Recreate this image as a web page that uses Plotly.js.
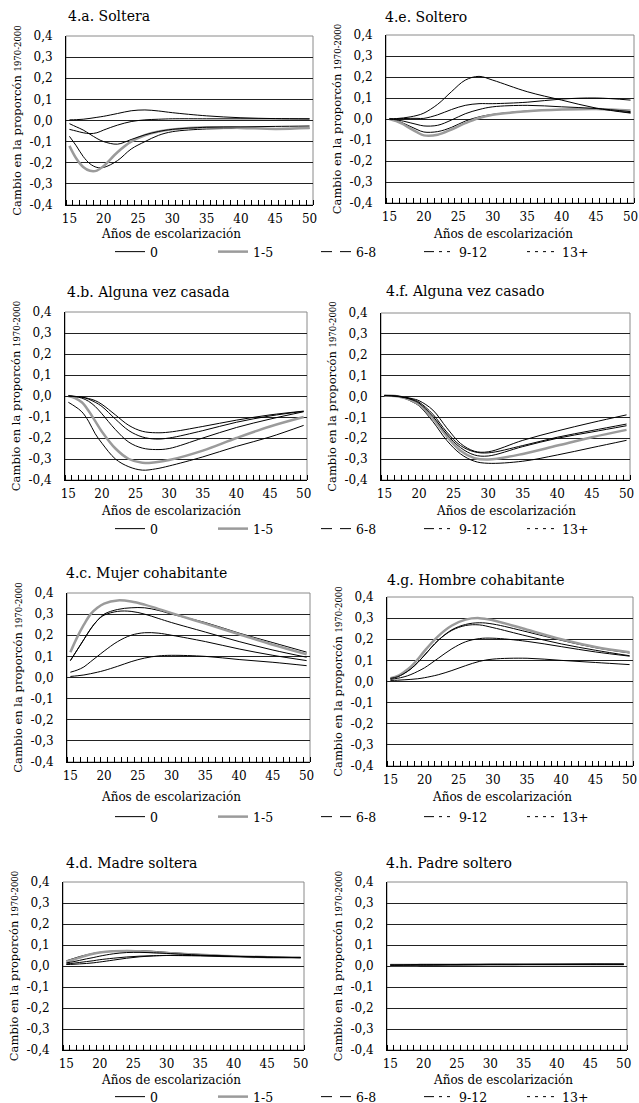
<!DOCTYPE html>
<html>
<head>
<meta charset="utf-8">
<script src="https://cdn.plot.ly/plotly-3.0.1.min.js"></script>
<style>html,body{margin:0;padding:0;background:#fff;}#chart{width:639px;height:1103px;}</style>
</head>
<body>
<div id="chart"></div>
<script>
// ---------- DATA ----------
const AGES = [15,16,17,18,19,20,22,24,26,28,30,35,40,45,50];
const GROUPS = ['0','1-5','6-8','9-12','13+'];
const X_TICK_VALS = [15,20,25,30,35,40,45,50];
const Y_TICK_VALS = [-0.4,-0.3,-0.2,-0.1,0,0.1,0.2,0.3,0.4];
const Y_TICK_TEXT = ['-0,4','-0,3','-0,2','-0,1','0,0','0,1','0,2','0,3','0,4'];
const PANEL_TITLES = ['4.a. Soltera','4.e. Soltero','4.b. Alguna vez casada','4.f. Alguna vez casado',
                      '4.c. Mujer cohabitante','4.g. Hombre cohabitante','4.d. Madre soltera','4.h. Padre soltero'];
const X_TITLE = 'Años de escolarización';
const Y_TITLE_MAIN = 'Cambio en la proporcón';
const Y_TITLE_SUB = '1970-2000';

// each panel: values for groups 0, 1-5, 6-8, 9-12, 13+
const solteraVals = [
  [-0.075,-0.12,-0.17,-0.205,-0.222,-0.222,-0.19,-0.135,-0.1,-0.07,-0.053,-0.04,-0.038,-0.038,-0.036],
  [-0.12,-0.18,-0.22,-0.238,-0.237,-0.215,-0.15,-0.1,-0.07,-0.052,-0.042,-0.032,-0.035,-0.04,-0.036],
  [-0.015,-0.03,-0.045,-0.065,-0.085,-0.1,-0.112,-0.09,-0.068,-0.052,-0.042,-0.032,-0.03,-0.028,-0.026],
  [-0.042,-0.05,-0.058,-0.062,-0.058,-0.045,-0.022,-0.005,0.003,0.006,0.008,0.008,0.008,0.008,0.007],
  [0.003,0.004,0.006,0.01,0.015,0.02,0.033,0.046,0.05,0.045,0.037,0.022,0.013,0.009,0.008]
];
const solteroVals = [
  [0,-0.008,-0.02,-0.035,-0.05,-0.062,-0.06,-0.04,-0.01,0.01,0.022,0.038,0.045,0.048,0.03],
  [0,-0.01,-0.025,-0.045,-0.063,-0.078,-0.075,-0.05,-0.02,0.005,0.02,0.037,0.045,0.048,0.04],
  [0,-0.004,-0.01,-0.018,-0.026,-0.033,-0.03,-0.005,0.025,0.045,0.058,0.065,0.058,0.05,0.035],
  [0,0.001,0.002,0.003,0.003,0.003,0.02,0.045,0.065,0.073,0.073,0.08,0.095,0.1,0.09],
  [0,0.002,0.005,0.01,0.017,0.028,0.07,0.13,0.185,0.203,0.185,0.13,0.09,0.052,0.028]
];
const casadaVals = [
  [-0.03,-0.05,-0.075,-0.12,-0.18,-0.225,-0.3,-0.337,-0.353,-0.347,-0.333,-0.29,-0.24,-0.195,-0.14],
  [0,-0.01,-0.03,-0.07,-0.12,-0.17,-0.25,-0.3,-0.318,-0.315,-0.305,-0.26,-0.2,-0.145,-0.1],
  [0,-0.003,-0.01,-0.025,-0.05,-0.085,-0.16,-0.22,-0.248,-0.255,-0.25,-0.2,-0.15,-0.11,-0.075],
  [0,-0.002,-0.006,-0.015,-0.03,-0.05,-0.11,-0.165,-0.195,-0.205,-0.2,-0.165,-0.125,-0.095,-0.073],
  [0,-0.002,-0.005,-0.012,-0.022,-0.04,-0.09,-0.14,-0.168,-0.175,-0.172,-0.145,-0.115,-0.09,-0.072]
];
const casadoVals = [
  [0.005,0.004,0,-0.01,-0.025,-0.045,-0.12,-0.21,-0.275,-0.31,-0.32,-0.31,-0.28,-0.245,-0.21],
  [0.005,0.004,0,-0.008,-0.02,-0.038,-0.105,-0.19,-0.26,-0.295,-0.302,-0.275,-0.235,-0.195,-0.16],
  [0.005,0.003,0,-0.006,-0.016,-0.032,-0.095,-0.18,-0.245,-0.28,-0.285,-0.24,-0.2,-0.17,-0.14],
  [0.005,0.004,0.001,-0.005,-0.013,-0.027,-0.085,-0.17,-0.235,-0.265,-0.27,-0.235,-0.195,-0.163,-0.132],
  [0.005,0.004,0.002,-0.003,-0.01,-0.02,-0.065,-0.15,-0.225,-0.262,-0.265,-0.21,-0.165,-0.125,-0.088]
];
const mujerCohVals = [
  [0.08,0.13,0.18,0.23,0.27,0.3,0.322,0.33,0.33,0.318,0.3,0.26,0.21,0.165,0.12],
  [0.12,0.19,0.25,0.3,0.33,0.35,0.365,0.36,0.345,0.325,0.305,0.255,0.205,0.155,0.11],
  [0.08,0.13,0.18,0.23,0.27,0.295,0.313,0.313,0.3,0.28,0.26,0.215,0.17,0.13,0.096],
  [0.025,0.035,0.05,0.075,0.1,0.125,0.17,0.2,0.212,0.21,0.2,0.17,0.135,0.105,0.08],
  [0.005,0.008,0.012,0.018,0.025,0.033,0.053,0.075,0.092,0.102,0.105,0.1,0.085,0.072,0.056]
];
const hombreCohVals = [
  [0.015,0.022,0.038,0.06,0.09,0.125,0.195,0.245,0.27,0.278,0.272,0.235,0.195,0.16,0.135],
  [0.015,0.025,0.045,0.07,0.105,0.145,0.215,0.265,0.293,0.3,0.29,0.245,0.2,0.163,0.138],
  [0.015,0.022,0.038,0.06,0.09,0.125,0.195,0.242,0.265,0.268,0.255,0.215,0.178,0.148,0.122],
  [0.01,0.015,0.022,0.033,0.048,0.065,0.11,0.155,0.188,0.203,0.205,0.19,0.165,0.14,0.12],
  [0.005,0.006,0.008,0.01,0.013,0.018,0.032,0.052,0.075,0.095,0.106,0.11,0.1,0.09,0.08]
];
const madreVals = [
  [0.025,0.035,0.045,0.053,0.06,0.065,0.071,0.074,0.073,0.07,0.065,0.055,0.047,0.042,0.04],
  [0.02,0.03,0.04,0.05,0.058,0.064,0.07,0.072,0.07,0.066,0.062,0.053,0.046,0.042,0.04],
  [0.015,0.02,0.027,0.034,0.04,0.047,0.058,0.064,0.065,0.063,0.06,0.052,0.046,0.042,0.04],
  [0.01,0.013,0.017,0.021,0.025,0.03,0.037,0.043,0.047,0.049,0.05,0.048,0.045,0.042,0.04],
  [0.007,0.008,0.01,0.012,0.015,0.019,0.028,0.037,0.044,0.048,0.05,0.05,0.046,0.042,0.04]
];
const padreVals = [
  [0.006,0.006,0.006,0.006,0.006,0.006,0.007,0.007,0.007,0.008,0.008,0.008,0.009,0.009,0.009],
  [0.005,0.005,0.005,0.005,0.005,0.006,0.006,0.006,0.007,0.007,0.007,0.008,0.008,0.008,0.008],
  [0.005,0.005,0.005,0.006,0.006,0.006,0.006,0.007,0.007,0.007,0.008,0.008,0.008,0.009,0.009],
  [0.004,0.004,0.005,0.005,0.005,0.005,0.006,0.006,0.006,0.007,0.007,0.007,0.008,0.008,0.008],
  [0.004,0.004,0.004,0.004,0.005,0.005,0.005,0.006,0.006,0.006,0.007,0.007,0.007,0.008,0.008]
];
// grid order: a, e, b, f, c, g, d, h
const PANEL_VALUES = [solteraVals, solteroVals, casadaVals, casadoVals, mujerCohVals, hombreCohVals, madreVals, padreVals];

// ---------- LAYOUT GEOMETRY (pixels) ----------
const W = 639, H = 1103;
const PX_DOMAINS = [ // [left, right, top, bottom]
  [66,313,36,205],[386,634,35,203],
  [65,307,312,480],[381,630,313,480],
  [67,310,593,762],[387,633,597,766],
  [63,304,882,1050],[387,627,882,1050]
];
const TITLE_POS = [[66,16],[383,17],[65,292],[384,291],[64,573],[385,580],[64,863],[384,863]];
const XTITLE_POS = [[171,233.5],[503,233.5],[171,510.5],[506,510.5],[171,796.5],[502,796.5],[171,1079.5],[503,1079.5]];
const LEGEND_Y = [252,529,817,1097];
const FONT = 'DejaVu Serif';

const lineStyle = [
  {color:'#000', width:1},
  {color:'#9b9b9b', width:2.5},
  {color:'#000', width:1},
  {color:'#000', width:1},
  {color:'#000', width:1}
];
const legendStyle = [
  {color:'#000', width:1},
  {color:'#9b9b9b', width:2.5},
  {color:'#000', width:1, dash:'11px,8px'},
  {color:'#000', width:1, dash:'10px,5px,3px,5px,3px,5px'},
  {color:'#000', width:1, dash:'3px,5px'}
];

const traces = [];
const layout = {
  width: W, height: H,
  margin: {l:0, r:0, t:0, b:0, autoexpand: false},
  paper_bgcolor: '#fff', plot_bgcolor: '#fff',
  separators: ',.',
  font: {family: FONT, color: '#000', size: 12},
  showlegend: true,
  annotations: [],
  shapes: []
};

PANEL_VALUES.forEach((vals, i) => {
  const n = i + 1;
  const xa = 'x' + (n === 1 ? '' : n), ya = 'y' + (n === 1 ? '' : n);
  const xk = 'xaxis' + (n === 1 ? '' : n), yk = 'yaxis' + (n === 1 ? '' : n);
  const d = PX_DOMAINS[i];
  vals.forEach((v, g) => {
    traces.push({
      x: AGES, y: v, xaxis: xa, yaxis: ya, type: 'scatter', mode: 'lines',
      line: Object.assign({shape: 'spline', smoothing: 1}, lineStyle[g]),
      name: GROUPS[g], showlegend: false, hoverinfo: 'skip'
    });
  });
  layout[xk] = {
    domain: [d[0]/W, d[1]/W], anchor: ya,
    range: [14.5, 50.5], tickvals: X_TICK_VALS, ticks: '',
    ticklabelstandoff: 3,
    showline: true, linecolor: '#000', linewidth: 1,
    showgrid: false, zeroline: false, fixedrange: true,
    minor: {ticks: 'inside', ticklen: 5, tickcolor: '#000', tickwidth: 1, tick0: 14.5, dtick: 1, showgrid: false},
    tickfont: {family: FONT, size: 12, color: '#000'}
  };
  layout[yk] = {
    domain: [1 - d[3]/H, 1 - d[2]/H], anchor: xa,
    range: [-0.4, 0.4], tickvals: Y_TICK_VALS, ticktext: Y_TICK_TEXT, ticks: '',
    ticklabelstandoff: 10,
    showline: true, linecolor: '#000', linewidth: 1,
    showgrid: true, gridcolor: '#222', gridwidth: 1, zeroline: false, fixedrange: true,
    tickfont: {family: FONT, size: 12, color: '#000'},
    title: {text: Y_TITLE_MAIN + ' <span style="font-size:8.5px">' + Y_TITLE_SUB + '</span>',
            font: {family: FONT, size: 11.5, color: '#000'}, standoff: 5}
  };
  layout.shapes.push({type:'rect', xref: xa + ' domain', yref: ya + ' domain', x0:0, x1:1, y0:0, y1:1,
                      line:{color:'#8a8a8a', width:1}, layer:'below'});
  layout.annotations.push({
    text: PANEL_TITLES[i], xref:'paper', yref:'paper',
    x: TITLE_POS[i][0]/W, y: 1 - TITLE_POS[i][1]/H, xanchor:'left', yanchor:'middle',
    showarrow:false, font:{family: FONT, size: 14, color:'#000'}
  });
  layout.annotations.push({
    text: X_TITLE, xref:'paper', yref:'paper',
    x: XTITLE_POS[i][0]/W, y: 1 - XTITLE_POS[i][1]/H, xanchor:'center', yanchor:'middle',
    showarrow:false, font:{family: FONT, size: 12, color:'#000'}
  });
});

// legend entries, one legend per row
LEGEND_Y.forEach((ly, r) => {
  const lk = r === 0 ? 'legend' : 'legend' + (r + 1);
  const n = 2*r + 1;
  GROUPS.forEach((g, gi) => {
    traces.push({
      x: [null], y: [null], xaxis: 'x' + (n === 1 ? '' : n), yaxis: 'y' + (n === 1 ? '' : n),
      type: 'scatter', mode: 'lines', line: legendStyle[gi], name: g,
      legend: lk, showlegend: true, hoverinfo: 'skip'
    });
  });
  layout[lk] = {
    orientation: 'h', x: 110/W, xanchor: 'left', y: 1 - ly/H, yanchor: 'middle',
    bgcolor: 'rgba(0,0,0,0)', font: {family: FONT, size: 12.5, color: '#000'},
    itemwidth: 30, entrywidth: 58, entrywidthmode: 'pixels', traceorder: 'normal'
  };
});

Plotly.newPlot('chart', traces, layout, {staticPlot: true, displayModeBar: false});
</script>
</body>
</html>
